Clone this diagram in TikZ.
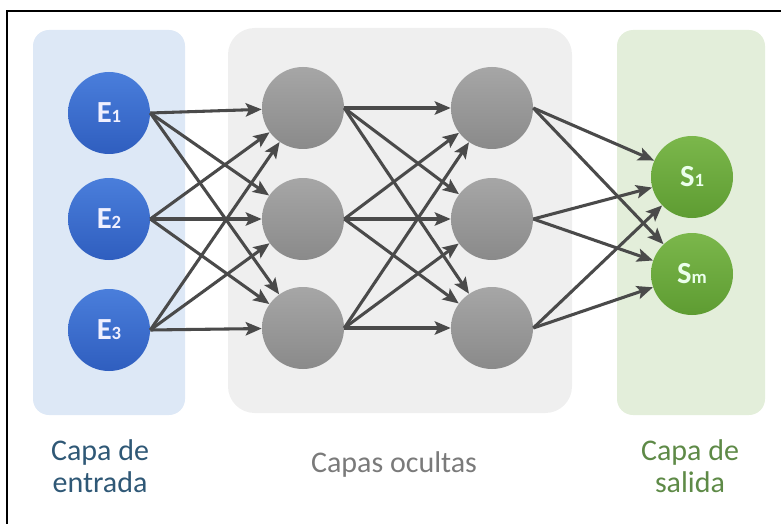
\documentclass[tikz,border=0pt]{standalone}
\usepackage{fontspec}
\setmainfont{Carlito}
\usetikzlibrary{arrows.meta}

\definecolor{inpanel}{HTML}{DDE8F6}
\definecolor{hidpanel}{HTML}{EFEFEF}
\definecolor{outpanel}{HTML}{E3EEDA}
\definecolor{bluetop}{HTML}{4A7EDB}
\definecolor{bluebot}{HTML}{2F5EBF}
\definecolor{graytop}{HTML}{A6A6A6}
\definecolor{graybot}{HTML}{8A8A8A}
\definecolor{greentop}{HTML}{7BB74B}
\definecolor{greenbot}{HTML}{5E9C32}
\definecolor{linkgray}{HTML}{4A4A4A}
\definecolor{entradatext}{HTML}{2F5876}
\definecolor{ocultastext}{HTML}{7A7A7A}
\definecolor{salidatext}{HTML}{5E8A47}

\newcommand{\nsub}[1]{{\fontsize{14}{14}\selectfont #1}}

\begin{document}
\begin{tikzpicture}[
    x=0.75pt, y=-0.75pt,
    neuron/.style = {circle, minimum size=61.5pt, inner sep=0pt,
font=\fontsize{23}{23}\selectfont\bfseries},
    inlayer/.style = {neuron, top color=bluetop, bottom color=bluebot,
text=blue!6},
    hidlayer/.style = {neuron, top color=graytop, bottom color=graybot},
    outlayer/.style = {neuron, top color=greentop, bottom color=greenbot,
text=green!8!white},
    link/.style = {draw=linkgray, line width=2.3pt,
-{Stealth[length=12pt, width=10pt, inset=2.5pt]}},
    caption/.style = {align=center, font=\fontsize{22.5}{24}\selectfont}
]

  \useasboundingbox (0,0) rectangle (781,524);
  \draw[line width=1.5pt] (7,524) -- (7,11) -- (781,11);

  % layer panels
  \fill[inpanel, rounded corners=12pt]  (33,30)  rectangle (185,415);
  \fill[hidpanel, rounded corners=20pt] (228,28) rectangle (572,413);
  \fill[outpanel, rounded corners=12pt] (617,30) rectangle (765,415);

  \node (e1) [inlayer] at (109,113) {E\nsub{1}};
  \node (e2) [inlayer] at (109,219) {E\nsub{2}};
  \node (e3) [inlayer] at (109,330) {E\nsub{3}};

  \node (h11) [hidlayer] at (303,108) {};
  \node (h12) [hidlayer] at (303,219) {};
  \node (h13) [hidlayer] at (303,328) {};

  \node (h21) [hidlayer] at (492,108) {};
  \node (h22) [hidlayer] at (492,219) {};
  \node (h23) [hidlayer] at (492,328) {};

  \node (s1) [outlayer] at (692,177) {S\nsub{1}};
  \node (sm) [outlayer] at (692,274) {S\nsub{m}};

  \path (e1.east) edge[link] (h11) edge[link] (h12) edge[link] (h13);
  \path (e2.east) edge[link] (h11) edge[link] (h12) edge[link] (h13);
  \path (e3.east) edge[link] (h11) edge[link] (h12) edge[link] (h13);

  \path (h11.east) edge[link] (h21) edge[link] (h22) edge[link] (h23);
  \path (h12.east) edge[link] (h21) edge[link] (h22) edge[link] (h23);
  \path (h13.east) edge[link] (h21) edge[link] (h22) edge[link] (h23);

  \path (h21.east) edge[link] (s1) edge[link] (sm);
  \path (h22.east) edge[link] (s1) edge[link] (sm);
  \path (h23.east) edge[link] (s1) edge[link] (sm);

  \node (entrada) [caption, text=entradatext] at (100,466) {Capa de\\entrada};
  \node (ocultas) [caption, text=ocultastext] at (394,464) {Capas ocultas};
  \node (salida)  [caption, text=salidatext]  at (690,466) {Capa de\\salida};

\end{tikzpicture}
\end{document}
